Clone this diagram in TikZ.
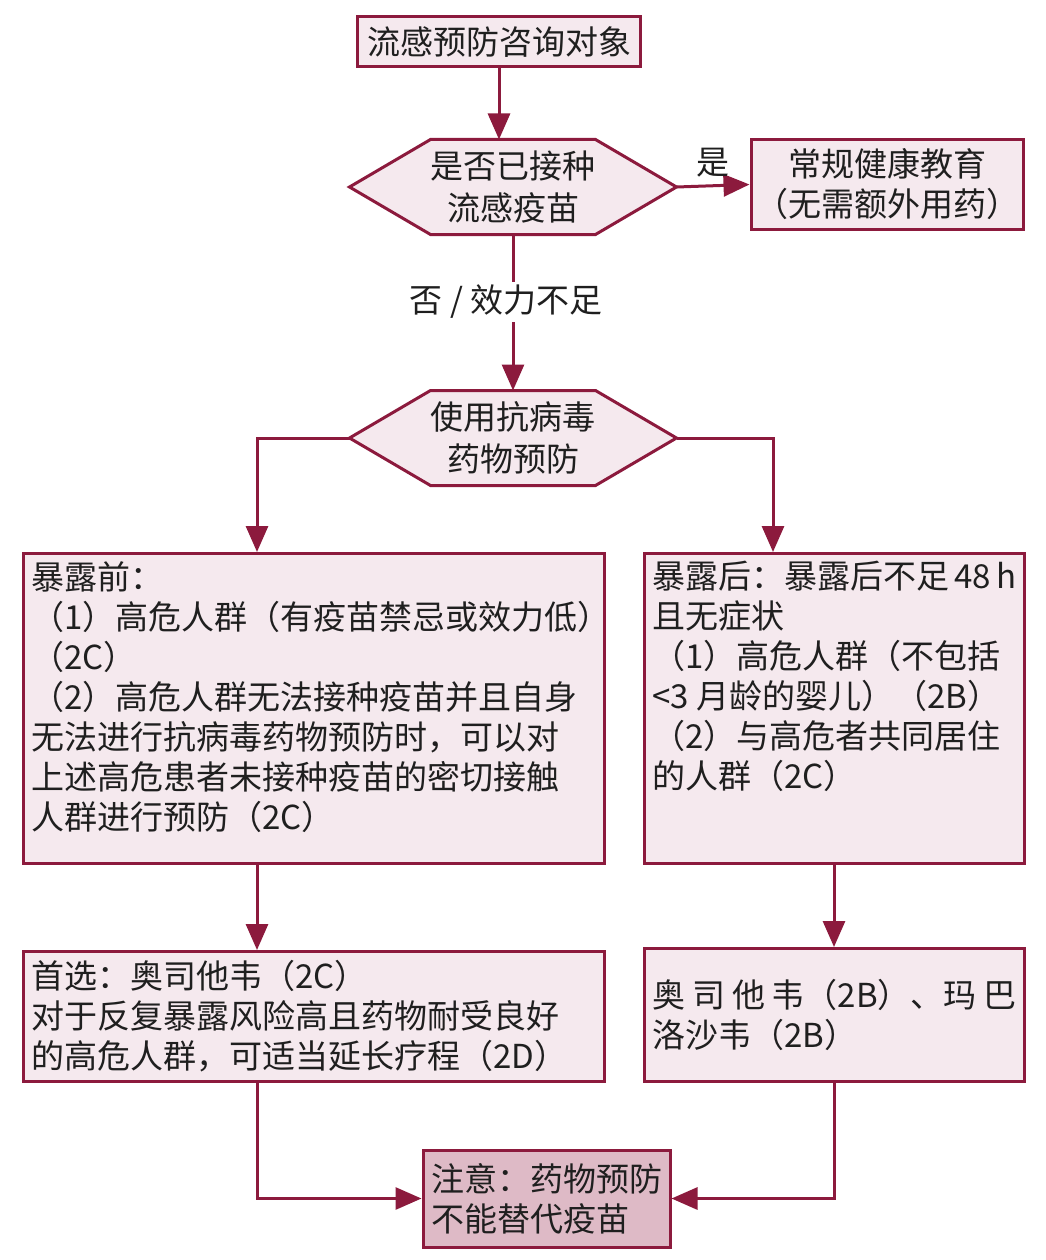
\documentclass[tikz,border=0pt]{standalone}
\usepackage{fontspec}
\setmainfont{Noto Sans CJK SC}
\usetikzlibrary{positioning}
\usetikzlibrary{arrows.meta}
\usetikzlibrary{backgrounds}
\definecolor{wine}{HTML}{8C1A3D}
\definecolor{pale}{HTML}{F5E9EE}
\definecolor{rose}{HTML}{DEBAC6}
\def\thickness{3pt}
\def\cut{81pt}
\newcommand{\toptext}[3]{\parbox[c][#2][t]{#1}{#3}}
% hexagon outline round a plain node
\newcommand{\hexpath}[1]{(#1.west) -- ([xshift=\cut]#1.north west) -- ([xshift=-\cut]#1.north east)
	-- (#1.east) -- ([xshift=-\cut]#1.south east) -- ([xshift=\cut]#1.south west) -- cycle}
\tikzset{
box/.style={draw=wine, line width=\thickness, fill=pale, inner sep=8pt,
	text=black!88, font=\fontsize{33}{40}\selectfont},
hexa/.style={minimum width=327pt, minimum height=95pt, outer sep=0pt, inner sep=0pt,
	align=center, text=black!88, font=\fontsize{33}{42}\selectfont},
hexline/.style={draw=wine, line width=\thickness, fill=pale, line join=miter},
tag/.style={text=black!88, inner sep=3pt, font=\fontsize{33}{40}\selectfont},
link/.style={draw=wine, line width=\thickness, -{Triangle[length=26pt,width=22pt]}},
plain/.style={draw=wine, line width=\thickness},
}

\begin{document}
\begin{tikzpicture}[x=1pt, y=-1pt]
\useasboundingbox (0,0) rectangle (1045,1260);
%Place the nodes
\node[box, minimum width=283pt, minimum height=50pt] (start) at (499,42) {流感预防咨询对象};
\node[hexa] (vac) at (513,187) {是否已接种\\流感疫苗};
\node[box, inner xsep=2pt, align=center, minimum width=272pt, minimum height=89pt] (edu) at (887,184.5) {常规健康教育\\（无需额外用药）};
\node[tag] (no) at (506,302) {否 / 效力不足};
\node[hexa] (anti) at (513,438) {使用抗病毒\\药物预防};

\node[box, anchor=north west] (pre) at (22,552) {\toptext{565pt}{294pt}{%
暴露前：\\
（1）高危人群（有疫苗禁忌或效力低）\\
（2C）\\
（2）高危人群无法接种疫苗并且自身\\
无法进行抗病毒药物预防时，可以对\\
上述高危患者未接种疫苗的密切接触\\
人群进行预防（2C）}};
\node[box, anchor=north west] (post) at (643,552) {\toptext{364pt}{294pt}{%
暴露后：暴露后不足 48 h\\
且无症状\\
（1）高危人群（不包括\\
<3 月龄的婴儿）（2B）\\
（2）与高危者共同居住\\
的人群（2C）}};

\node[box, anchor=north west, text width=565pt, align=left, minimum height=130pt] (first) at (22,950) {%
首选：奥司他韦（2C）\\
对于反复暴露风险高且药物耐受良好\\
的高危人群，可适当延长疗程（2D）};
\node[box, anchor=north west, text width=364pt, align=left, minimum height=133pt] (alt) at (643,947) {%
\makebox[364pt][s]{奥\hfil 司\hfil 他\hfil 韦（2B）、玛\hfil 巴}\\
洛沙韦（2B）};

\node[box, fill=rose, align=left, minimum width=247pt, minimum height=97pt] (note) at (546.5,1198.5) {注意：药物预防\\不能替代疫苗};

\begin{scope}[on background layer]
\draw[hexline] \hexpath{vac};
\draw[hexline] \hexpath{anti};
\end{scope}

\coordinate (lx) at (257,0);
\coordinate (rx) at (773,0);
\coordinate (ry) at (834,0);

%
\draw[link] (start.south) -- (start.south |- vac.north);
\draw[link] (vac.east) -- (edu.west) node[tag, midway, above=4pt] (yes) {是};
\draw[plain] (vac.south) -- (vac.south |- no.north);
\draw[link] (vac.south |- no.south) -- (anti.north);

%
\draw[link] (anti.west) -| (lx |- pre.north);
\draw[link] (anti.east) -| (rx |- post.north);
\draw[link] (lx |- pre.south) -- (lx |- first.north);
\draw[link] (ry |- post.south) -- (ry |- alt.north);

%
\draw[link] (lx |- first.south) |- (note.west);
\draw[link] (ry |- alt.south) |- (note.east);

\end{tikzpicture}
\end{document}
